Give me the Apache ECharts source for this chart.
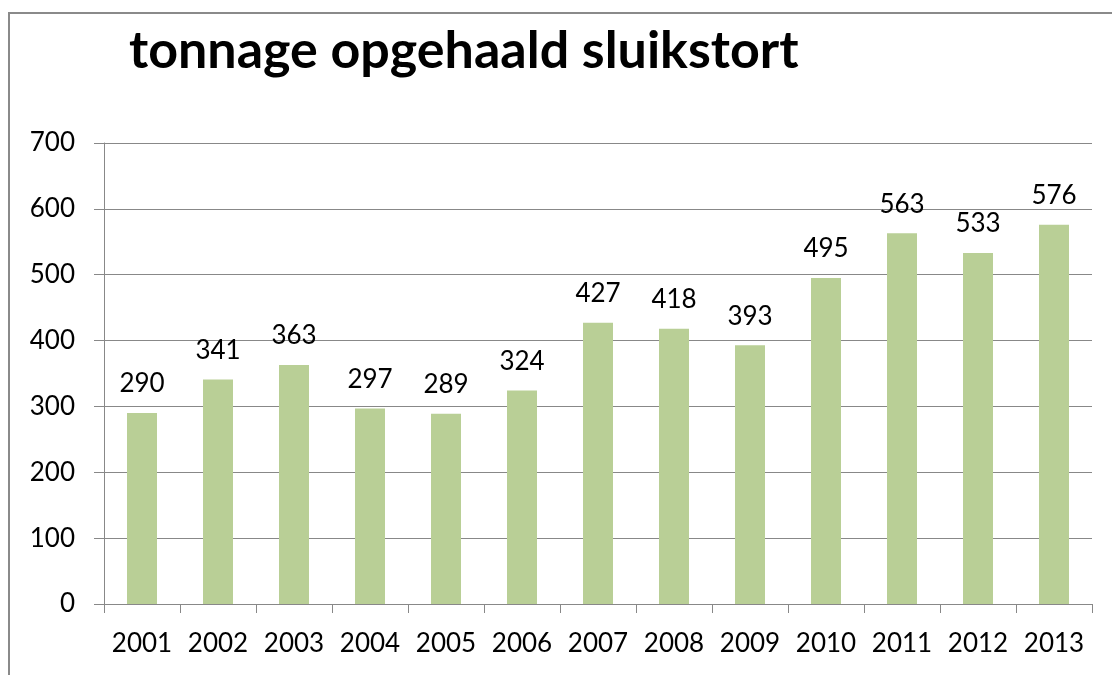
<!DOCTYPE html>
<html>
<head>
<meta charset="utf-8">
<script src="https://cdn.jsdelivr.net/npm/echarts@6/dist/echarts.min.js"></script>
<style>
html,body{margin:0;padding:0;background:#fff;}
#chart{width:1112px;height:675px;}
</style>
</head>
<body>
<div id="chart"></div>
<script>
const titleText = 'tonnage opgehaald sluikstort';
const years = ['2001','2002','2003','2004','2005','2006','2007','2008','2009','2010','2011','2012','2013'];
const tonnage = [290, 341, 363, 297, 289, 324, 427, 418, 393, 495, 563, 533, 576];
const yMin = 0, yMax = 700, yStep = 100;

const font = 'Lato, "Open Sans", sans-serif';
const chart = echarts.init(document.getElementById('chart'));
chart.setOption({
  animation: false,
  backgroundColor: '#fff',
  title: {
    text: titleText,
    left: 124,
    top: 20,
    textStyle: { fontFamily: font, fontSize: 52, fontWeight: 'bold', color: '#000' }
  },
  graphic: [{
    type: 'rect',
    shape: { x: 9, y: 13, width: 1200, height: 800 },
    style: { fill: 'none', stroke: '#8a8a8a', lineWidth: 2 },
    silent: true
  }],
  grid: { left: 104, right: 20, top: 143, bottom: 71, containLabel: false },
  xAxis: {
    type: 'category',
    data: years,
    axisLine: { lineStyle: { color: '#888', width: 1 } },
    axisTick: { show: true, length: 9, alignWithLabel: false, lineStyle: { color: '#888' } },
    axisLabel: { fontFamily: font, fontSize: 26, color: '#000', margin: 27, interval: 0 }
  },
  yAxis: {
    type: 'value',
    min: yMin, max: yMax, interval: yStep,
    axisLine: { show: true, lineStyle: { color: '#888', width: 1 } },
    axisTick: { show: true, length: 10, lineStyle: { color: '#888' } },
    splitLine: { lineStyle: { color: '#888', width: 1 } },
    axisLabel: { fontFamily: font, fontSize: 26, color: '#000', margin: 29 }
  },
  series: [{
    type: 'bar',
    data: tonnage,
    barWidth: 30,
    itemStyle: { color: '#b9cf96' },
    label: {
      show: true, position: 'top', distance: 16,
      fontFamily: font, fontSize: 26, color: '#000'
    }
  }]
});
</script>
</body>
</html>
